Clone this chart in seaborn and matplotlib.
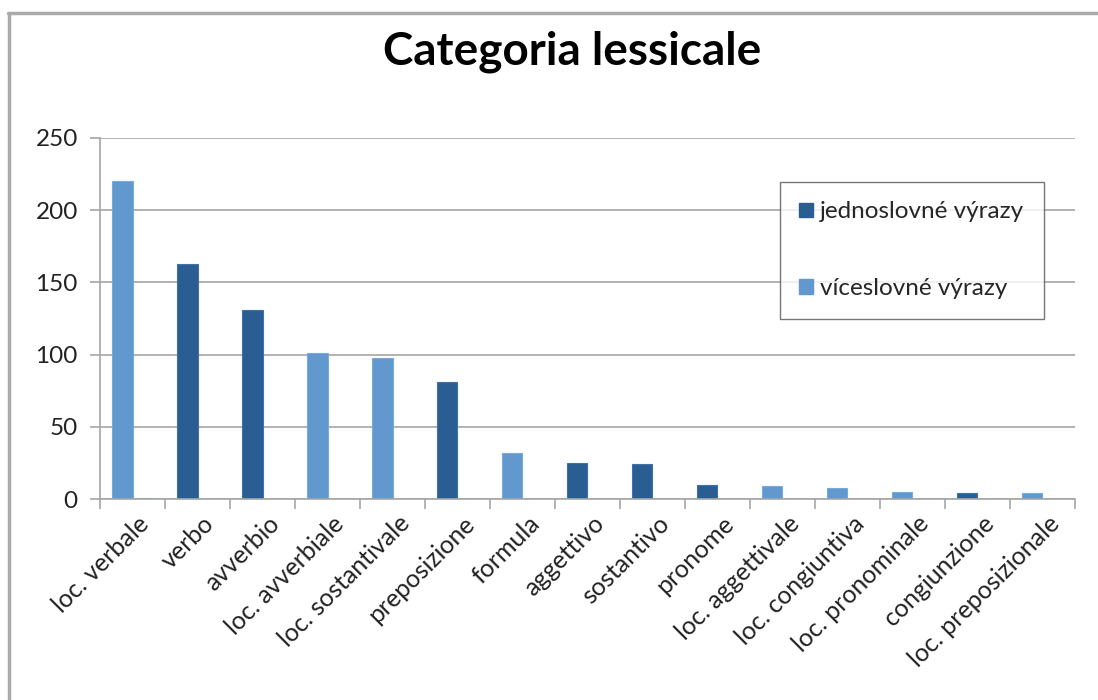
import matplotlib
matplotlib.use("Agg")
import matplotlib.pyplot as plt
import numpy as np
import pandas as pd
import seaborn as sns
from matplotlib.lines import Line2D
from matplotlib.patches import Patch

# Data
categories = [
    "loc. verbale", "verbo", "avverbio", "loc. avverbiale", "loc. sostantivale",
    "preposizione", "formula", "aggettivo", "sostantivo", "pronome",
    "loc. aggettivale", "loc. congiuntiva", "loc. pronominale", "congiunzione",
    "loc. preposizionale",
]
main_values = [220, 163, 131, 101, 98, 81, 32, 25, 24, 10, 9, 8, 5, 4, 4]
extra_values = [1, 0, 0, 0, 0, 0, 0, 0, 0, 0, 0, 0, 0, 0, 0]
# True = jednoslovné (single word), False = víceslovné (multi word)
single_word = [False, True, True, False, False, True, False, True, True, True,
               False, False, False, True, False]
legend_labels = ["jednoslovné výrazy", "víceslovné výrazy"]

DARK = "#2A5D92"
LIGHT = "#6198CE"
GRID = "#A6A6A6"

sns.set_theme(style="white")
plt.rcParams["font.family"] = ["Lato", "DejaVu Sans"]

df = pd.DataFrame({
    "category": categories * 2,
    "slot": ["a"] * len(categories) + ["b"] * len(categories),
    "value": main_values + extra_values,
})

fig = plt.figure(figsize=(10.98, 7.0), dpi=100)
ax = fig.add_axes([0.0911, 0.287, 0.8879, 0.516])

sns.barplot(data=df, x="category", y="value", hue="slot", order=categories,
            hue_order=["a", "b"], palette=[LIGHT, LIGHT], dodge=True,
            width=0.62, errorbar=None, legend=False, ax=ax, linewidth=0.8)

# colour the main bars by expression type
for patch, sw in zip(ax.containers[0], single_word):
    patch.set_facecolor(DARK if sw else LIGHT)
    patch.set_edgecolor("#3F72A8" if sw else "#7AAAD8")
for patch in ax.containers[1]:
    patch.set_edgecolor("#7AAAD8")

ax.set_xlim(-0.5, len(categories) - 0.5)
ax.set_ylim(0, 250)
ax.set_yticks(np.arange(0, 251, 50))
ax.set_xlabel("")
ax.set_ylabel("")
ax.yaxis.grid(True, color=GRID, linewidth=1.2)
ax.set_axisbelow(True)

for side in ["top", "right"]:
    ax.spines[side].set_visible(False)
for side in ["left", "bottom"]:
    ax.spines[side].set_color(GRID)
    ax.spines[side].set_linewidth(1.2)

ax.tick_params(axis="y", length=7, width=1.2, color=GRID, labelsize=17.5,
               labelcolor="#222222", pad=9, left=True)
ax.set_xticks(np.arange(len(categories)))
ax.set_xticks(np.arange(len(categories) + 1) - 0.5, minor=True)
ax.tick_params(axis="x", which="major", length=0, pad=9)
ax.tick_params(axis="x", which="minor", length=7, width=1.2, color=GRID,
               bottom=True)
ax.set_xticklabels(categories, rotation=45, ha="right",
                   rotation_mode="anchor", fontsize=18, color="#222222")
for lbl in ax.get_xticklabels():
    lbl.set_transform(lbl.get_transform()
                      + matplotlib.transforms.ScaledTranslation(0.05, 0, fig.dpi_scale_trans))

fig.text(0.521, 0.926, "Categoria lessicale", ha="center", va="center",
         fontsize=33, fontweight="bold", color="black")

handles = [Patch(facecolor=DARK, edgecolor=DARK),
           Patch(facecolor=LIGHT, edgecolor=LIGHT)]
leg = fig.legend(handles, legend_labels, loc="upper left",
                 bbox_to_anchor=(780 / 1098, 1 - 182 / 700), frameon=True,
                 fontsize=17.5, labelspacing=2.3, handlelength=0.55,
                 handleheight=0.55, handletextpad=0.3, borderpad=0.8,
                 fancybox=False, borderaxespad=0)
leg.get_frame().set_edgecolor("#555555")
leg.get_frame().set_linewidth(1.0)

# outer chart frame (top and left edges only)
fig.add_artist(Line2D([8 / 1098, 1], [1 - 13 / 700] * 2, color="#AAAAAA",
                      linewidth=2.5, transform=fig.transFigure))
fig.add_artist(Line2D([9 / 1098] * 2, [0, 1 - 13 / 700], color="#AAAAAA",
                      linewidth=2.5, transform=fig.transFigure))

fig.savefig("out.png", dpi=100, facecolor="white")
